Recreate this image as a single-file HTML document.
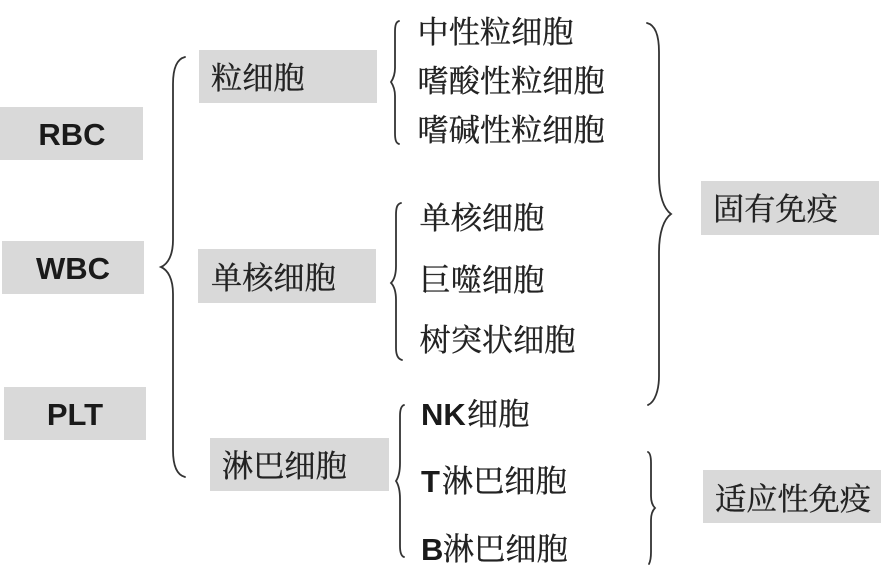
<!DOCTYPE html>
<html>
<head>
<meta charset="utf-8">
<style>
html,body{margin:0;padding:0;background:#fff}
svg{display:block}
.s{font-family:"Liberation Serif","Noto Serif CJK SC",serif;font-size:31.2px;fill:#222;stroke:#222;stroke-width:0.35}
.b{font-family:"Liberation Sans","Noto Sans CJK SC",sans-serif;font-size:31px;font-weight:bold;fill:#1a1a1a}
.c{text-anchor:middle}
path{fill:none;stroke:#333;stroke-width:1.8;stroke-linecap:round}
rect{fill:#d9d9d9}
#g{filter:blur(0.35px)}
</style>
</head>
<body>
<svg width="892" height="586" viewBox="0 0 892 586" xmlns="http://www.w3.org/2000/svg">
<g id="g">
<rect x="0" y="107" width="143" height="53"/>
<rect x="2" y="241" width="142" height="53"/>
<rect x="4" y="387" width="142" height="53"/>
<rect x="199" y="50" width="178" height="53"/>
<rect x="198" y="249" width="178" height="54"/>
<rect x="210" y="438" width="179" height="53"/>
<rect x="701" y="181" width="178" height="54"/>
<rect x="703" y="470" width="178" height="53"/>

<text class="b c" x="72" y="145">RBC</text>
<text class="b c" x="73" y="279">WBC</text>
<text class="b c" x="75" y="425">PLT</text>

<text class="s" x="211" y="89">粒细胞</text>
<text class="s" x="211" y="289">单核细胞</text>
<text class="s" x="222" y="477">淋巴细胞</text>
<text class="s" x="713" y="220">固有免疫</text>
<text class="s" x="715" y="510">适应性免疫</text>

<text class="s" x="417.5" y="43">中性粒细胞</text>
<text class="s" x="417.5" y="92">嗜酸性粒细胞</text>
<text class="s" x="417.5" y="141">嗜碱性粒细胞</text>
<text class="s" x="419.5" y="229">单核细胞</text>
<text class="s" x="419.5" y="291">巨噬细胞</text>
<text class="s" x="419.5" y="351">树突状细胞</text>

<text class="s" x="467" y="425">细胞</text>
<text class="b" x="421" y="425">NK</text>
<text class="b" x="421" y="492">T</text>
<text class="s" x="442" y="492">淋巴细胞</text>
<text class="b" x="421" y="560">B</text>
<text class="s" x="443" y="560">淋巴细胞</text>

<path d="M185 57C177 59 173 68 173 84V240C173 255 168 264 161 267C168 270 173 279 173 294V450C173 466 177 475 185 477"/>
<path d="M399 21C396 22 395 25 395 32V68C395 75 393 79 391 82C393 85 395 89 395 96V133C395 140 396 143 399 144"/>
<path d="M401 203C397 204 396 208 396 215V266C396 274 394 280 391 283C394 286 396 292 396 300V348C396 355 398 359 402 360"/>
<path d="M404 405C401 406 400 410 400 416V463C400 472 398 478 396 481C398 484 400 490 400 499V546C400 552 401 556 404 557"/>
<path d="M647 23C655 25 659 35 659 52V176C659 196 664 209 671 214C664 219 659 232 659 252V376C659 390 655 402 648 405"/>
<path d="M648 452C650 453 651 457 651 463V496C651 502 653 506 655 508C653 510 651 514 651 520V552C651 558 650 562 649 564"/>
</g>
</svg>
</body>
</html>
